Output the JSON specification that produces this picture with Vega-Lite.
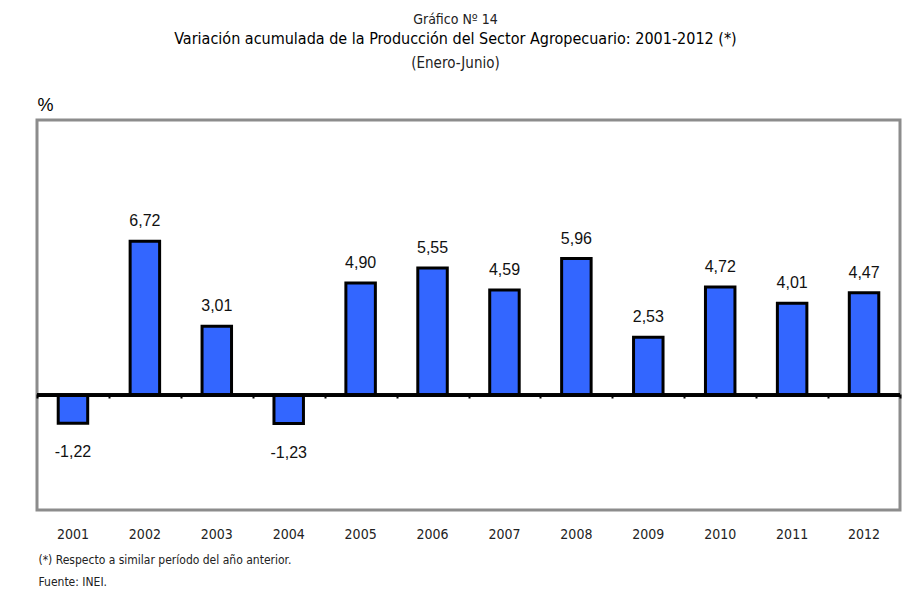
{
  "$schema": "https://vega.github.io/schema/vega-lite/v6.json",
  "autosize": "none",
  "width": 863,
  "height": 390,
  "padding": {"left": 37, "top": 120, "right": 14, "bottom": 86},
  "background": "white",
  "title": {
    "text": "Gráfico Nº 14",
    "subtitle": "Variación acumulada de la Producción del Sector Agropecuario: 2001-2012 (*)",
    "anchor": "middle",
    "dx": -13,
    "offset": 8,
    "font": "DejaVu Sans Condensed",
    "fontSize": 14,
    "fontWeight": "normal",
    "color": "#222222",
    "subtitleFont": "DejaVu Sans Condensed",
    "subtitleFontSize": 16,
    "subtitleColor": "#000000",
    "subtitlePadding": 4
  },
  "data": {
    "values": [
      {"year": "2001", "value": -1.22},
      {"year": "2002", "value": 6.72},
      {"year": "2003", "value": 3.01},
      {"year": "2004", "value": -1.23},
      {"year": "2005", "value": 4.90},
      {"year": "2006", "value": 5.55},
      {"year": "2007", "value": 4.59},
      {"year": "2008", "value": 5.96},
      {"year": "2009", "value": 2.53},
      {"year": "2010", "value": 4.72},
      {"year": "2011", "value": 4.01},
      {"year": "2012", "value": 4.47}
    ]
  },
  "resolve": {"axis": {"x": "independent"}},
  "layer": [
    {
      "mark": {"type": "bar", "width": {"band": 0.41}, "fill": "#3366FF", "stroke": "#000000", "strokeWidth": 3},
      "encoding": {
        "x": {
          "field": "year", "type": "ordinal",
          "scale": {"paddingInner": 0, "paddingOuter": 0},
          "axis": {
            "orient": "bottom",
            "ticks": false, "domain": false, "grid": false,
            "labelAngle": 0,
            "labelPadding": 17,
            "labelFont": "DejaVu Sans Condensed",
            "labelFontSize": 14,
            "labelColor": "#222222",
            "title": ["(*) Respecto a similar período del año anterior.", "Fuente: INEI."],
            "titleFont": "DejaVu Sans Condensed",
            "titleFontSize": 12,
            "titleFontWeight": "normal",
            "titleColor": "#222222",
            "titleAlign": "left",
            "titleAnchor": "start",
            "titleBaseline": "alphabetic",
            "titleLineHeight": 22,
            "titleX": 1,
            "titleY": 53
          }
        },
        "y": {
          "field": "value", "type": "quantitative",
          "scale": {"domain": [-5, 12], "nice": false, "zero": false},
          "axis": {
            "labels": false, "ticks": false, "domain": false, "grid": false,
            "title": "%",
            "titleAngle": 0,
            "titleFont": "Liberation Sans",
            "titleFontSize": 18,
            "titleFontWeight": "normal",
            "titleColor": "#000000",
            "titleAlign": "center",
            "titleBaseline": "alphabetic",
            "titleX": 8,
            "titleY": -10
          }
        }
      }
    },
    {
      "mark": {"type": "rule", "color": "#000000", "strokeWidth": 3},
      "encoding": {"y": {"datum": 0, "type": "quantitative"}}
    },
    {
      "transform": [{"filter": "datum.value >= 0"}],
      "mark": {"type": "text", "font": "Liberation Sans", "fontSize": 16, "color": "#111111", "baseline": "alphabetic", "dy": -15},
      "encoding": {
        "x": {
          "field": "year", "type": "ordinal",
          "axis": {
            "orient": "bottom",
            "offset": -116,
            "labels": false, "domain": false, "grid": false,
            "ticks": true, "tickBand": "extent", "tickSize": 4, "tickWidth": 2, "tickColor": "#000000",
            "title": null
          }
        },
        "y": {"field": "value", "type": "quantitative"},
        "text": {"field": "value", "type": "quantitative", "format": ".2f"}
      }
    },
    {
      "transform": [{"filter": "datum.value < 0"}],
      "mark": {"type": "text", "font": "Liberation Sans", "fontSize": 16, "color": "#111111", "baseline": "alphabetic", "dy": 34},
      "encoding": {
        "x": {
          "field": "year", "type": "ordinal",
          "axis": {
            "orient": "top",
            "labels": false, "ticks": false, "domain": false, "grid": false,
            "title": "(Enero-Junio)",
            "titleFont": "DejaVu Sans Condensed",
            "titleFontSize": 15,
            "titleFontWeight": "normal",
            "titleColor": "#222222",
            "titleAlign": "center",
            "titleBaseline": "alphabetic",
            "titleX": 418,
            "titleY": -53
          }
        },
        "y": {"field": "value", "type": "quantitative"},
        "text": {"field": "value", "type": "quantitative", "format": ".2f"}
      }
    }
  ],
  "config": {
    "locale": {"number": {"decimal": ",", "thousands": ".", "grouping": [3], "currency": ["", ""], "minus": "-"}},
    "view": {"stroke": "#8c8c8c", "strokeWidth": 3}
  }
}
